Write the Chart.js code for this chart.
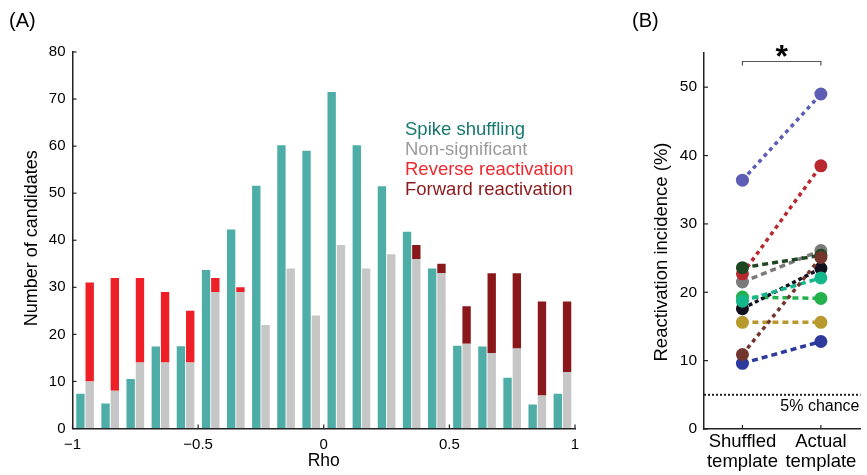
<!DOCTYPE html>
<html>
<head>
<meta charset="utf-8">
<script src="https://cdn.jsdelivr.net/npm/chart.js@4.4.1/dist/chart.umd.min.js"></script>
<style>
  body { margin: 0; background: #fff; }
  #wrap { position: relative; width: 867px; height: 475px; }
  #histWrap { position: absolute; left: 0; top: 0; width: 620px; height: 475px; }
  #pairWrap { position: absolute; left: 620px; top: 0; width: 247px; height: 475px; }
</style>
</head>
<body>
<div id="wrap">
  <div id="histWrap"><canvas id="rhoHist"></canvas></div>
  <div id="pairWrap"><canvas id="incidence"></canvas></div>
</div>
<script>
var FONT = "'Liberation Sans', Arial, sans-serif";
Chart.defaults.font.family = FONT;
Chart.defaults.color = '#000';

// (A) rho histogram, one entry per 0.1 bin
var rhoBins = [-0.95, -0.85, -0.75, -0.65, -0.55, -0.45, -0.35, -0.25, -0.15, -0.05,
               0.05, 0.15, 0.25, 0.35, 0.45, 0.55, 0.65, 0.75, 0.85, 0.95];
var spikeShuffling = [7.4, 5.3, 10.5, 17.4, 17.5, 33.7, 42.3, 51.6, 60.2, 59.0,
                      71.5, 60.2, 51.5, 41.8, 34.0, 17.6, 17.4, 10.8, 5.1, 7.4];
var nonSignificant = [10, 8, 14, 14, 14, 29, 29, 22, 34, 24,
                      39, 34, 37, 36, 33, 18, 16, 17, 7, 12];
var reverseReact = [21, 24, 18, 15, 11, 3, 1, 0, 0, 0,
                    0, 0, 0, 0, 0, 0, 0, 0, 0, 0];
var forwardReact = [0, 0, 0, 0, 0, 0, 0, 0, 0, 0,
                    0, 0, 0, 3, 2, 8, 17, 16, 20, 15];
var histLegend = ['Spike shuffling', 'Non-significant', 'Reverse reactivation', 'Forward reactivation'];
var histLegendColors = ['#17796f', '#9b9b9b', '#ee2a30', '#8a1a1d'];

// (B) reactivation incidence per session, shuffled vs actual template
var conditions = [['Shuffled', 'template'], ['Actual', 'template']];
var shuffledPct = [10.9, 18.7, 23.6, 22.7, 21.5, 17.6, 19.3, 15.6, 9.6, 36.4];
var actualPct   = [25.1, 22.1, 25.4, 38.5, 26.1, 23.5, 19.1, 15.6, 12.8, 49.0];
var sessionColors = ['#73362f', '#16b68c', '#1e4620', '#b8282e', '#7a7a7a',
                     '#10101e', '#22b14c', '#b8992e', '#2b3a9c', '#5d5db5'];
var sessionDash = [[4, 4], [6, 4], [6, 4], [4, 4], [6, 4],
                   [4, 3], [6, 4], [6, 4], [6, 4], [4, 4]];
var chanceLevel = 5;

function minusLabel(v) {
    return v < 0 ? '\u2212' + Math.abs(v) : String(v);
}

// short tick marks pointing into the plot
var innerTicks = {
    id: 'innerTicks',
    afterDraw: function(chart) {
        var ctx = chart.ctx;
        var area = chart.chartArea;
        var xs = chart.scales.x, ys = chart.scales.y;
        ctx.save();
        ctx.strokeStyle = '#222';
        ctx.lineWidth = 1.2;
        xs.ticks.forEach(function(t) {
            var px = xs.getPixelForValue(t.value);
            ctx.beginPath();
            ctx.moveTo(px, area.bottom);
            ctx.lineTo(px, area.bottom - 4);
            ctx.stroke();
        });
        ys.ticks.forEach(function(t) {
            var py = ys.getPixelForValue(t.value);
            ctx.beginPath();
            ctx.moveTo(area.left, py);
            ctx.lineTo(area.left + 4, py);
            ctx.stroke();
        });
        ctx.restore();
    }
};

var histText = {
    id: 'histText',
    afterDraw: function(chart) {
        var ctx = chart.ctx;
        var area = chart.chartArea;
        ctx.save();
        ctx.textBaseline = 'middle';
        ctx.fillStyle = '#000';
        ctx.font = '20px ' + FONT;
        ctx.fillText('(A)', 9, 21);

        ctx.font = '17.5px ' + FONT;
        ctx.textAlign = 'center';
        ctx.fillText('Rho', (area.left + area.right) / 2, 461);

        ctx.save();
        ctx.translate(32, (area.top + area.bottom) / 2 - 2);
        ctx.rotate(-Math.PI / 2);
        ctx.font = '18px ' + FONT;
        ctx.fillText('Number of candidates', 0, 0);
        ctx.restore();

        ctx.textAlign = 'left';
        ctx.font = '18.5px ' + FONT;
        for (var i = 0; i < histLegend.length; i++) {
            ctx.fillStyle = histLegendColors[i];
            ctx.fillText(histLegend[i], 405, 130 + i * 20);
        }
        ctx.restore();
    }
};

function pts(vals) {
    return vals.map(function(v, i) { return {x: rhoBins[i], y: v}; });
}

new Chart(document.getElementById('rhoHist'), {
    type: 'bar',
    data: {
        datasets: [
            {label: histLegend[0], data: pts(spikeShuffling), backgroundColor: '#4eada6', stack: 'shuf'},
            {label: histLegend[1], data: pts(nonSignificant), backgroundColor: '#c6c6c6', stack: 'cand'},
            {label: histLegend[2], data: pts(reverseReact), backgroundColor: '#ee1f27', stack: 'cand'},
            {label: histLegend[3], data: pts(forwardReact), backgroundColor: '#8a181b', stack: 'cand'}
        ]
    },
    options: {
        responsive: true,
        maintainAspectRatio: false,
        animation: false,
        categoryPercentage: 0.74,
        barPercentage: 0.9,
        borderWidth: 0,
        layout: {padding: {left: 0, right: 45, top: 52, bottom: 0}},
        plugins: {legend: {display: false}, tooltip: {enabled: false}},
        scales: {
            x: {
                type: 'linear',
                min: -1, max: 1,
                offset: false,
                grid: {display: true, drawOnChartArea: false, drawTicks: false, offset: false},
                border: {display: true, color: '#222', width: 1.5},
                ticks: {stepSize: 0.5, padding: 7, font: {size: 15}, callback: minusLabel, maxRotation: 0},
                afterFit: function(s) { s.height = 46.5; }
            },
            y: {
                stacked: true,
                min: 0, max: 80,
                grid: {display: true, drawOnChartArea: false, drawTicks: false},
                border: {display: true, color: '#222', width: 1.5},
                ticks: {stepSize: 10, padding: 7, font: {size: 15}},
                afterFit: function(s) { s.width = 72.5; }
            }
        }
    },
    plugins: [innerTicks, histText]
});

var pairText = {
    id: 'pairText',
    afterDraw: function(chart) {
        var ctx = chart.ctx;
        var area = chart.chartArea;
        var xs = chart.scales.x, ys = chart.scales.y;
        ctx.save();
        ctx.textBaseline = 'middle';
        ctx.fillStyle = '#000';
        ctx.font = '20px ' + FONT;
        ctx.fillText('(B)', 12, 21);

        // chance level
        var yc = ys.getPixelForValue(chanceLevel);
        ctx.strokeStyle = '#222';
        ctx.lineWidth = 2;
        ctx.setLineDash([2, 2]);
        ctx.beginPath();
        ctx.moveTo(area.left, yc);
        ctx.lineTo(area.right, yc);
        ctx.stroke();
        ctx.setLineDash([]);
        ctx.font = '16px ' + FONT;
        ctx.textAlign = 'right';
        ctx.fillText('5% chance', area.right - 1, yc + 12);

        // significance bracket
        var x0 = xs.getPixelForValue(0), x1 = xs.getPixelForValue(1);
        ctx.strokeStyle = '#555';
        ctx.lineWidth = 1.2;
        ctx.beginPath();
        ctx.moveTo(x0, 65.5);
        ctx.lineTo(x0, 61.5);
        ctx.lineTo(x1, 61.5);
        ctx.lineTo(x1, 65.5);
        ctx.stroke();
        ctx.textAlign = 'center';
        ctx.font = 'bold 32px ' + FONT;
        ctx.fillText('*', (x0 + x1) / 2, 58);

        ctx.save();
        ctx.translate(42, 252);
        ctx.rotate(-Math.PI / 2);
        ctx.font = '18.5px ' + FONT;
        ctx.fillText('Reactivation incidence (%)', 0, 0);
        ctx.restore();
        ctx.restore();
    }
};

var sessionSets = shuffledPct.map(function(s, i) {
    return {
        data: [{x: 0, y: s}, {x: 1, y: actualPct[i]}],
        borderColor: sessionColors[i],
        backgroundColor: sessionColors[i],
        borderDash: sessionDash[i],
        borderWidth: 3.5,
        pointRadius: 6.5,
        pointBorderWidth: 0,
        pointBackgroundColor: sessionColors[i]
    };
});

new Chart(document.getElementById('incidence'), {
    type: 'line',
    data: {datasets: sessionSets},
    options: {
        responsive: true,
        maintainAspectRatio: false,
        animation: false,
        layout: {padding: {left: 0, right: 0, top: 53, bottom: 0}},
        plugins: {legend: {display: false}, tooltip: {enabled: false}},
        scales: {
            x: {
                type: 'linear',
                min: -0.49, max: 1.505,
                grid: {display: true, drawOnChartArea: false, drawTicks: false},
                border: {display: true, color: '#222', width: 1.5},
                afterBuildTicks: function(s) { s.ticks = [{value: 0}, {value: 1}]; },
                ticks: {padding: 3, font: {size: 18.5, lineHeight: 1.08}, maxRotation: 0,
                        callback: function(v) { return conditions[v]; }},
                afterFit: function(s) { s.height = 46; }
            },
            y: {
                min: 0, max: 55,
                grid: {display: true, drawOnChartArea: false, drawTicks: false},
                border: {display: true, color: '#222', width: 1.5},
                ticks: {stepSize: 10, padding: 7, font: {size: 15.5},
                        callback: function(v) { return v % 10 === 0 ? v : null; }},
                afterFit: function(s) { s.width = 84; }
            }
        }
    },
    plugins: [innerTicks, pairText]
});
</script>
</body>
</html>
